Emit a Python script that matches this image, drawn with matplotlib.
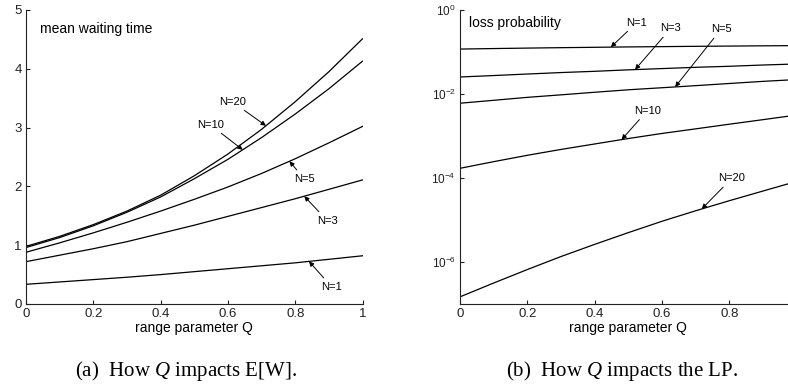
import numpy as np
import matplotlib
matplotlib.use("Agg")
import matplotlib.pyplot as plt

plt.rcParams['font.family'] = ['Liberation Sans', 'DejaVu Sans']
plt.rcParams['mathtext.fontset'] = 'custom'
plt.rcParams['mathtext.rm'] = 'Liberation Serif'
plt.rcParams['mathtext.it'] = 'Liberation Serif:italic'

# ---------------- data ----------------
Q = [0.0, 0.1, 0.2, 0.3, 0.4, 0.5, 0.6, 0.7, 0.8, 0.9, 1.0]

# (a) mean waiting time
W_N1 = [0.335, 0.375, 0.415, 0.455, 0.50, 0.55, 0.60, 0.65, 0.70, 0.76, 0.82]
W_N3 = [0.72, 0.83, 0.94, 1.06, 1.20, 1.34, 1.49, 1.64, 1.79, 1.95, 2.11]
W_N5 = [0.88, 1.04, 1.21, 1.39, 1.58, 1.78, 1.99, 2.22, 2.47, 2.74, 3.02]
W_N10 = [0.96, 1.13, 1.33, 1.56, 1.82, 2.13, 2.46, 2.83, 3.23, 3.66, 4.13]
W_N20 = [0.98, 1.15, 1.35, 1.58, 1.85, 2.18, 2.55, 2.97, 3.44, 3.95, 4.51]

# (b) loss probability
P_N1 = [0.1175, 0.1208, 0.1239, 0.1268, 0.1294, 0.1321, 0.1343, 0.1365, 0.1384, 0.1403, 0.1419]
P_N3 = [2.54e-2, 2.75e-2, 2.99e-2, 3.24e-2, 3.47e-2, 3.76e-2, 4.03e-2, 4.32e-2, 4.57e-2, 4.90e-2, 5.19e-2]
P_N5 = [6.03e-3, 7.08e-3, 8.32e-3, 9.55e-3, 1.10e-2, 1.26e-2, 1.41e-2, 1.58e-2, 1.78e-2, 2.00e-2, 2.21e-2]
P_N10 = [1.70e-4, 2.45e-4, 3.47e-4, 4.79e-4, 6.46e-4, 8.71e-4, 1.15e-3, 1.48e-3, 1.91e-3, 2.45e-3, 3.16e-3]
P_N20 = [1.48e-7, 3.16e-7, 6.61e-7, 1.35e-6, 2.63e-6, 5.01e-6, 9.33e-6, 1.66e-5, 2.88e-5, 4.90e-5, 8.32e-5]

labels = ['N=1', 'N=3', 'N=5', 'N=10', 'N=20']
W_series = [W_N1, W_N3, W_N5, W_N10, W_N20]
P_series = [P_N1, P_N3, P_N5, P_N10, P_N20]

# label text position (Q, value) and arrow tip Q on the curve
W_text = [(0.908, 0.295), (0.895, 1.42), (0.827, 2.13), (0.547, 3.05), (0.613, 3.44)]
W_tipQ = [0.841, 0.827, 0.783, 0.644, 0.713]
P_text = [(0.525, 10**-0.30), (0.626, 10**-0.437), (0.775, 10**-0.46), (0.556, 10**-2.40), (0.807, 10**-4.01)]
P_tipQ = [0.448, 0.520, 0.639, 0.480, 0.718]

xt_L = [0, 0.2, 0.4, 0.6, 0.8, 1.0]
xt_L_lab = ['0', '0.2', '0.4', '0.6', '0.8', '1']
xt_R = [0, 0.2, 0.4, 0.6, 0.8]
xt_R_lab = ['0', '0.2', '0.4', '0.6', '0.8']
yt_L = [0, 1, 2, 3, 4, 5]
yt_R = [1e-6, 1e-4, 1e-2, 1e0]
yt_R_lab = [r'$\mathdefault{10^{-6}}$', r'$\mathdefault{10^{-4}}$', r'$\mathdefault{10^{-2}}$', r'$\mathdefault{10^{0}}$']

# ---------------- figure ----------------
W, H = 788, 385
fig = plt.figure(figsize=(W / 100, H / 100), dpi=100)
axL = fig.add_axes([26 / W, 81 / H, 336.5 / W, 294 / H])
axR = fig.add_axes([460 / W, 81 / H, 336.7 / W, 294 / H])

arrowprops = dict(arrowstyle='-|>', color='black', lw=0.7, mutation_scale=7,
                  shrinkA=1, shrinkB=0)

for ax in (axL, axR):
    for s in ('top', 'right'):
        ax.spines[s].set_visible(False)
    for s in ('left', 'bottom'):
        ax.spines[s].set_linewidth(0.8)
        ax.spines[s].set_color('#222222')
    ax.tick_params(direction='in', length=3, width=0.8, labelsize=9.5,
                   colors='#222222', pad=3)
    ax.minorticks_off()

# (a)
for y, lab, (tx, ty), tq in zip(W_series, labels, W_text, W_tipQ):
    axL.plot(Q, y, color='black', lw=0.9)
    tip = (tq, np.interp(tq, Q, y))
    axL.annotate(lab, xy=tip, xytext=(tx, ty), ha='center', va='center',
                 fontsize=8, arrowprops=arrowprops)
axL.set_xlim(0, 1)
axL.set_ylim(0, 5)
axL.set_xticks(xt_L)
axL.set_xticklabels(xt_L_lab)
axL.set_yticks(yt_L)
axL.text(0.0416, 0.935, 'mean waiting time', transform=axL.transAxes,
         ha='left', va='center', fontsize=10)

# (b)
for y, lab, (tx, ty), tq in zip(P_series, labels, P_text, P_tipQ):
    axR.semilogy(Q, y, color='black', lw=0.9)
    tip = (tq, 10 ** np.interp(tq, Q, np.log10(y)))
    axR.annotate(lab, xy=tip, xytext=(tx, ty), ha='center', va='center',
                 fontsize=8, arrowprops=arrowprops)
axR.set_xlim(0, 1)
axR.set_ylim(1e-7, 1)
axR.set_xticks(xt_R)
axR.set_xticklabels(xt_R_lab)
axR.set_yticks(yt_R)
axR.set_yticklabels(yt_R_lab, fontsize=8.5)
axR.minorticks_off()
axR.text(0.0276, 0.955, 'loss probability', transform=axR.transAxes,
         ha='left', va='center', fontsize=10)

for ax in (axL, axR):
    ax.set_xlabel('range parameter Q', fontsize=10)
    ax.xaxis.set_label_coords(0.5, -(332 - 304) / 294)
    ax.xaxis.label.set_va('baseline')

# captions
fig.text(186 / W, (H - 376) / H, r'(a)  How $Q$ impacts E[W].',
         ha='center', va='baseline', fontsize=15, family='Liberation Serif')
fig.text(622 / W, (H - 376) / H, r'(b)  How $Q$ impacts the LP.',
         ha='center', va='baseline', fontsize=15, family='Liberation Serif')

fig.savefig('out.png', dpi=100)
